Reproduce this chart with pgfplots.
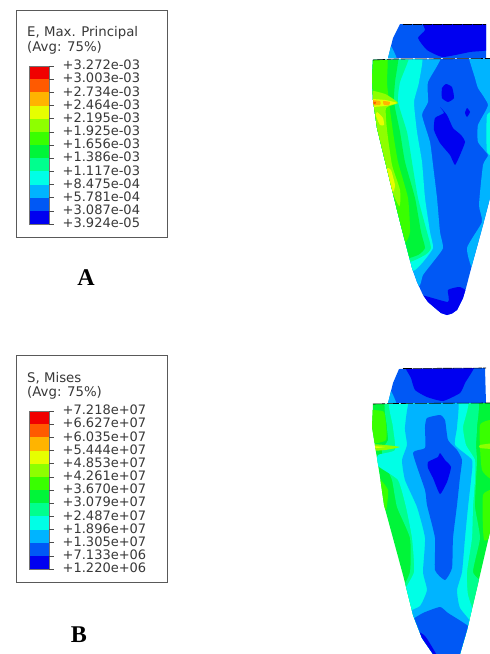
\documentclass[border=0pt]{standalone}
\usepackage{pgfplots}
\pgfplotsset{compat=1.18}
\usepackage{fontspec}
\setmainfont{DejaVu Sans}
\newfontfamily\capfont{Liberation Serif}
\definecolor{cA}{HTML}{0000F0}
\definecolor{cB}{HTML}{0058F5}
\definecolor{cC}{HTML}{00B4FF}
\definecolor{cD}{HTML}{00FFE6}
\definecolor{cE}{HTML}{00FF8E}
\definecolor{cF}{HTML}{00F539}
\definecolor{cG}{HTML}{39FF00}
\definecolor{cH}{HTML}{8EFF00}
\definecolor{cI}{HTML}{E6FF00}
\definecolor{cJ}{HTML}{FFB400}
\definecolor{cK}{HTML}{FF5A00}
\definecolor{cL}{HTML}{F00000}
\newcommand\band[3]{\addplot[fill=#1,draw=none] coordinates {(29,#2)(49,#2)(49,#3)(29,#3)} -- cycle;}
\newcommand\poly[2]{\addplot[fill=#1,draw=none,smooth cycle,tension=0.3] coordinates {#2};}
\newcommand\base[2]{\addplot[fill=#1,draw=none] coordinates {#2} -- cycle;}
\newcommand\lab[2]{\node[anchor=west,inner sep=0pt,text=black!78] at (axis cs:62.5,#1) {\fontsize{13}{13}\selectfont #2};}
\newcommand\head[2]{\node[anchor=west,inner sep=0pt,text=black!78] at (axis cs:27,#1) {\fontsize{13.3}{13.3}\selectfont #2};}
\begin{document}
\begin{tikzpicture}
\fill[white] (0,0) rectangle (490pt,654pt);
\begin{axis}[at={(0,0)},anchor=south west,hide axis,scale only axis,width=490pt,height=654pt,xmin=0,xmax=490,ymin=0,ymax=654,y dir=reverse,clip=true,no markers]
% ---------- legend A
\addplot[draw=black!65,line width=0.9pt] coordinates {(16,10)(167,10)(167,237)(16,237)} -- cycle;
\head{33}{E, Max. Principal}
\head{48}{(Avg: 75\%)}
\band{cL}{66}{79.2}\band{cK}{79.2}{92.3}\band{cJ}{92.3}{105.5}\band{cI}{105.5}{118.7}
\band{cH}{118.7}{131.8}\band{cG}{131.8}{145}\band{cF}{145}{158.2}\band{cE}{158.2}{171.3}
\band{cD}{171.3}{184.5}\band{cC}{184.5}{197.7}\band{cB}{197.7}{210.8}\band{cA}{210.8}{224}
\addplot[draw=black!55,line width=0.4pt] coordinates {(29,66)(49,66)(49,224)(29,224)} -- cycle;
\addplot[black!70,line width=0.5pt,unbounded coords=jump] coordinates {(49,66)(54,66)(49,nan)(49,79.2)(54,79.2)(49,nan)(49,92.3)(54,92.3)(49,nan)(49,105.5)(54,105.5)(49,nan)(49,118.7)(54,118.7)(49,nan)(49,131.8)(54,131.8)(49,nan)(49,145)(54,145)(49,nan)(49,158.2)(54,158.2)(49,nan)(49,171.3)(54,171.3)(49,nan)(49,184.5)(54,184.5)(49,nan)(49,197.7)(54,197.7)(49,nan)(49,210.8)(54,210.8)(49,nan)(49,224)(54,224)};
\lab{65}{+3.272e-03}\lab{78.2}{+3.003e-03}\lab{91.4}{+2.734e-03}\lab{104.5}{+2.464e-03}
\lab{117.7}{+2.195e-03}\lab{130.9}{+1.925e-03}\lab{144}{+1.656e-03}\lab{157.2}{+1.386e-03}
\lab{170.4}{+1.117e-03}\lab{183.5}{+8.475e-04}\lab{196.7}{+5.781e-04}\lab{209.9}{+3.087e-04}\lab{223}{+3.924e-05}
\node[text=black] at (axis cs:86,278) {\capfont\bfseries\fontsize{24}{24}\selectfont A};
% ---------- legend B
\addplot[draw=black!65,line width=0.9pt] coordinates {(16,355)(167,355)(167,582)(16,582)} -- cycle;
\head{378}{S, Mises}
\head{393}{(Avg: 75\%)}
\band{cL}{411}{424.2}\band{cK}{424.2}{437.3}\band{cJ}{437.3}{450.5}\band{cI}{450.5}{463.7}
\band{cH}{463.7}{476.8}\band{cG}{476.8}{490}\band{cF}{490}{503.2}\band{cE}{503.2}{516.3}
\band{cD}{516.3}{529.5}\band{cC}{529.5}{542.7}\band{cB}{542.7}{555.8}\band{cA}{555.8}{569}
\addplot[draw=black!55,line width=0.4pt] coordinates {(29,411)(49,411)(49,569)(29,569)} -- cycle;
\addplot[black!70,line width=0.5pt,unbounded coords=jump] coordinates {(49,411)(54,411)(49,nan)(49,424.2)(54,424.2)(49,nan)(49,437.3)(54,437.3)(49,nan)(49,450.5)(54,450.5)(49,nan)(49,463.7)(54,463.7)(49,nan)(49,476.8)(54,476.8)(49,nan)(49,490)(54,490)(49,nan)(49,503.2)(54,503.2)(49,nan)(49,516.3)(54,516.3)(49,nan)(49,529.5)(54,529.5)(49,nan)(49,542.7)(54,542.7)(49,nan)(49,555.8)(54,555.8)(49,nan)(49,569)(54,569)};
\lab{410}{+7.218e+07}\lab{423.2}{+6.627e+07}\lab{436.4}{+6.035e+07}\lab{449.5}{+5.444e+07}
\lab{462.7}{+4.853e+07}\lab{475.9}{+4.261e+07}\lab{489}{+3.670e+07}\lab{502.2}{+3.079e+07}
\lab{515.4}{+2.487e+07}\lab{528.5}{+1.896e+07}\lab{541.7}{+1.305e+07}\lab{554.9}{+7.133e+06}\lab{568}{+1.220e+06}
\node[text=black] at (axis cs:79,635) {\capfont\bfseries\fontsize{24}{24}\selectfont B};
% ---------- contour A : cap
\begin{scope}
\clip (axis cs:400,24) -- (axis cs:486,24) -- (axis cs:486,58) -- (axis cs:388,58) -- (axis cs:393,38) -- cycle;
\base{cB}{(380,15)(495,15)(495,65)(380,65)}
\poly{cC}{(385,47)(391,46)(397,60)(385,62)}
\poly{cA}{(423,15)(495,15)(495,48)(470,52)(443,57)(427,50)(418,38)(425,30)}
\end{scope}
% ---------- contour A : body
\begin{scope}
\clip (axis cs:373,60) -- (axis cs:490,58.5) -- (axis cs:490,198) -- (axis cs:483,225) -- (axis cs:472,265) -- (axis cs:466,288) -- (axis cs:463,298) -- (axis cs:457,310) -- (axis cs:452,313.5) -- (axis cs:447,315) -- (axis cs:441,313) -- (axis cs:435,308) -- (axis cs:428,302) -- (axis cs:423,295) -- (axis cs:417,282) -- (axis cs:412,268) -- (axis cs:400,222) -- (axis cs:386,165) -- (axis cs:377,128) -- (axis cs:373,100) -- (axis cs:372,78) -- cycle;
\base{cB}{(365,50)(495,50)(495,320)(365,320)}
\poly{cC}{(365,50)(442,50)(428,82)(428,102)(422,115)(430,142)(433,165)(437,198)(440,232)(443,248)(433,262)(423,275)(420,285)(412,290)(400,270)(390,222)(378,165)(368,128)(365,78)}
\poly{cC}{(468,50)(497,50)(497,270)(474,272)(467,248)(482,222)(479,205)(483,165)(488,155)(478,142)(478,125)(488,105)(478,88)(475,78)}
\poly{cD}{(487,115)(497,113)(497,155)(487,152)}
\poly{cD}{(365,50)(421,50)(419,82)(414,102)(417,132)(422,162)(425,198)(430,232)(433,248)(423,262)(415,270)(403,272)(392,222)(378,165)(368,128)(365,78)}
\poly{cE}{(365,50)(410,50)(400,82)(398,102)(407,132)(412,162)(418,198)(427,232)(431,248)(425,255)(405,262)(392,222)(378,165)(368,128)(365,78)}
\poly{cF}{(365,50)(398,50)(395,82)(394,102)(400,132)(405,162)(415,198)(421,232)(425,248)(418,255)(402,258)(392,222)(378,165)(368,128)(365,78)}
\poly{cG}{(365,50)(387,50)(387,82)(389,102)(393,132)(398,162)(408,198)(410,232)(405,242)(392,222)(378,165)(368,128)(365,78)}
\poly{cH}{(365,90)(385,94)(398,103)(386,108)(387,130)(392,165)(400,190)(399,206)(380,165)(370,128)(365,110)}
\poly{cI}{(365,99)(385,100)(397,103)(385,106)(365,107)}
\poly{cI}{(377,112)(383,118)(384,125)(380,125)(376,116)}
\poly{cI}{(387,168)(391,170)(395,185)(393,192)(389,180)}
\poly{cJ}{(368,100)(380,101)(380,105)(368,105)}
\poly{cJ}{(383,101)(390,102)(389,105)(384,105)}
\poly{cK}{(368,101.5)(376,102)(375,104)(368,104)}
\poly{cA}{(440,107)(444,113)(435,118)(434,130)(440,143)(450,155)(455,165)(460,155)(465,142)(461,135)(453,128)(447,115)}
\poly{cA}{(442,88)(446,84)(452,87)(454,98)(448,102)(442,98)}
\poly{cA}{(467,108)(470,112)(467,117)(465,113)}
\poly{cA}{(418,295)(448,302)(448,290)(460,287)(470,295)(460,322)(430,322)}
\end{scope}
\addplot[black,line width=0.6pt,dash pattern=on 9pt off 1pt] coordinates {(403,24)(486,24)};
\addplot[black,line width=0.6pt,dash pattern=on 12pt off 2pt] coordinates {(373,60)(395,59)(490,58.5)};
% ---------- contour B : cap
\begin{scope}
\clip (axis cs:399,369) -- (axis cs:485,368) -- (axis cs:486,403) -- (axis cs:388,403) -- (axis cs:393,383) -- cycle;
\base{cB}{(380,360)(495,360)(495,410)(380,410)}
\poly{cC}{(385,392)(391,391)(397,406)(385,408)}
\poly{cA}{(405,360)(475,360)(465,383)(460,393)(443,401)(427,397)(415,390)(411,378)}
\end{scope}
% ---------- contour B : body
\begin{scope}
\clip (axis cs:373,404) -- (axis cs:490,403) -- (axis cs:490,532) -- (axis cs:477,588) -- (axis cs:467,630) -- (axis cs:460,654) -- (axis cs:433,654) -- (axis cs:422,638) -- (axis cs:413,615) -- (axis cs:403,575) -- (axis cs:384,505) -- (axis cs:380,477) -- (axis cs:372,427) -- cycle;
\base{cF}{(365,395)(495,395)(495,660)(365,660)}
\poly{cG}{(365,412)(384,412)(386,440)(365,443)}
\poly{cG}{(480,425)(497,422)(497,480)(482,470)}
\poly{cG}{(378,478)(388,490)(386,510)(378,505)}
\poly{cG}{(483,495)(497,490)(497,530)(484,540)}
\poly{cE}{(388,395)(475,395)(477,427)(476,445)(477,460)(476,480)(475,507)(480,538)(473,572)(485,588)(475,630)(470,662)(425,662)(412,640)(403,615)(400,595)(410,572)(410,538)(397,507)(392,480)(384,462)(382,450)(388,440)(387,427)}
\poly{cD}{(391,395)(467,395)(463,427)(466,445)(475,460)(475,480)(473,507)(472,538)(467,572)(468,595)(478,628)(470,662)(425,662)(412,640)(403,615)(402,595)(414,572)(412,538)(406,507)(398,480)(378,466)(378,455)(395,450)(393,427)}
\poly{cC}{(412,395)(457,395)(457,427)(455,445)(472,460)(471,480)(468,507)(465,538)(462,572)(457,590)(460,608)(476,630)(470,662)(425,662)(412,640)(404,615)(420,606)(427,590)(423,572)(425,538)(417,507)(405,480)(402,460)(407,445)(405,427)}
\poly{cB}{(427,418)(440,415)(445,420)(448,440)(457,450)(462,460)(460,477)(457,505)(453,538)(452,568)(445,580)(435,570)(435,538)(427,505)(425,490)(413,453)(425,448)(425,427)}
\poly{cA}{(428,462)(438,457)(440,453)(445,460)(451,467)(447,482)(440,494)(433,478)(428,468)}
\poly{cB}{(410,622)(423,613)(440,607)(448,613)(475,632)(468,662)(425,662)(412,640)}
\poly{cA}{(410,628)(425,636)(440,662)(425,662)(412,640)}
\poly{cH}{(365,444)(385,445)(400,447)(385,450)(365,451)}
\poly{cI}{(365,446)(385,447)(365,449)}
\poly{cH}{(480,445)(497,443)(497,449)(480,448)}
\end{scope}
\addplot[black,line width=0.6pt,dash pattern=on 9pt off 1pt] coordinates {(403,368.5)(486,368)};
\addplot[black,line width=0.6pt,dash pattern=on 12pt off 2pt] coordinates {(373,404)(395,403.5)(490,403)};
\end{axis}
\end{tikzpicture}
\end{document}
